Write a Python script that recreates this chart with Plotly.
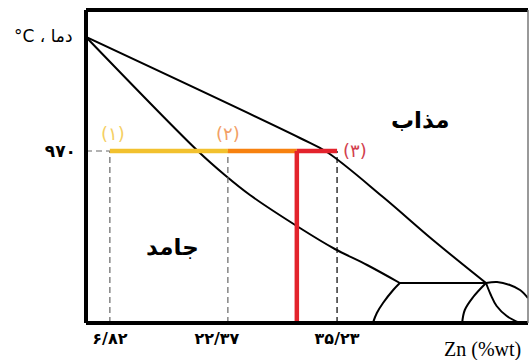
import plotly.graph_objects as go

# schematic Cu-Zn diagram, x = position across the frame (0-100), y = temperature
liq_x = [0, 48.4, 54.5, 67.2, 78.5, 90.5]
liq_t = [1084, 983, 969, 924, 881, 838]

sol_x = [0, 25.3, 31.4, 37.1, 48.4, 56.3, 63.6, 71.0]
sol_t = [1084, 970, 946, 926, 893, 872, 856, 838]

peri_x = [71.0, 90.5]
peri_t = [838, 838]

right_x = [90.5, 93.0, 95.9, 98.2, 100]
right_t = [838, 839, 836, 831, 823]

down_x = [90.5, 91.6, 92.9, 95.2, 98.2]
down_t = [838, 826, 815, 805, 798]

arc1_x = [71.0, 69.5, 67.2, 65.8, 64.9]
arc1_t = [838, 831, 818, 808, 798]

arc2_x = [90.5, 87.6, 85.7, 85.1]
arc2_t = [838, 824, 811, 798]

# points (1), (2), (3) on the 970 line and the alloy composition
t_iso = 970
pts_x = [5.4, 32.1, 56.8]
alloy_x = 47.7
t_bottom = 798

x_ticks = [5.4, 29.6, 56.8]
x_labels = ["۶/۸۲", "۲۲/۳۷", "۳۵/۲۳"]

seg_colors = ["#F2C12E", "#F7810F", "#E3232C"]
lbl_colors = ["#F5CF63", "#F2A066", "#D2404E"]
lbl_text = ["(۱)", "(۲)", "(۳)"]

fig = go.Figure()

for xs, ts, shape in [(liq_x, liq_t, "spline"), (sol_x, sol_t, "spline"),
                      (peri_x, peri_t, "linear"), (right_x, right_t, "spline"),
                      (down_x, down_t, "spline"), (arc1_x, arc1_t, "spline"),
                      (arc2_x, arc2_t, "spline")]:
    fig.add_trace(go.Scatter(x=xs, y=ts, mode="lines", line=dict(color="black", width=2, shape=shape),
                             hoverinfo="skip", showlegend=False))

# dashed guides
fig.add_trace(go.Scatter(x=[0, pts_x[0]], y=[t_iso, t_iso], mode="lines",
                         line=dict(color="#666666", width=1.2, dash="6px,4px"), showlegend=False))
for i, xv in enumerate(pts_x):
    fig.add_trace(go.Scatter(x=[xv, xv], y=[t_bottom, t_iso], mode="lines",
                             line=dict(color="#666666" if i < 2 else "black", width=1.2, dash="6px,4px"),
                             showlegend=False))

# coloured 970 line
seg_ends = [pts_x[0], pts_x[1], alloy_x, pts_x[2]]
for i in range(3):
    fig.add_trace(go.Scatter(x=[seg_ends[i], seg_ends[i + 1]], y=[t_iso, t_iso], mode="lines",
                             line=dict(color=seg_colors[i], width=4.5), showlegend=False))
fig.add_trace(go.Scatter(x=[alloy_x, alloy_x], y=[t_bottom, t_iso], mode="lines",
                         line=dict(color=seg_colors[2], width=4.5), showlegend=False))

# frame
for x0, y0, x1, y1, w, c in [(0, 0, 0, 1, 4, "black"), (0, 1, 1, 1, 4, "black"),
                             (0, 0, 1, 0, 4, "black"), (1, 0, 1, 1, 1.5, "#777777")]:
    fig.add_shape(type="line", xref="paper", yref="paper", x0=x0, y0=y0, x1=x1, y1=y1,
                  line=dict(color=c, width=w))

ar = "DejaVu Sans"
fig.add_annotation(x=pts_x[0] + 0.6, y=t_iso + 18, text=lbl_text[0], showarrow=False,
                   font=dict(family=ar, size=18, color=lbl_colors[0]))
fig.add_annotation(x=pts_x[1], y=t_iso + 18, text=lbl_text[1], showarrow=False,
                   font=dict(family=ar, size=18, color=lbl_colors[1]))
fig.add_annotation(x=pts_x[2] + 1.0, y=t_iso + 1, text=lbl_text[2], showarrow=False, xanchor="left",
                   font=dict(family=ar, size=18, color=lbl_colors[2]))

fig.add_annotation(x=75.6, y=1001, text="<b>مذاب</b>", showarrow=False,
                   font=dict(family=ar, size=23, color="black"))
fig.add_annotation(x=19.5, y=874, text="<b>جامد</b>", showarrow=False,
                   font=dict(family=ar, size=23, color="black"))
fig.add_annotation(xref="paper", yref="paper", x=-0.097, y=0.917, xanchor="center", yanchor="middle",
                   text="°C ، دما", showarrow=False,
                   font=dict(family=ar, size=17, color="black"))
fig.add_annotation(xref="paper", yref="paper", x=0.806, y=-0.085, xanchor="left", yanchor="middle",
                   text="Zn (%wt)", showarrow=False,
                   font=dict(family="Liberation Serif", size=20, color="black"))

fig.update_layout(
    width=529, height=360,
    margin=dict(l=86, r=1, t=10, b=37),
    plot_bgcolor="white", paper_bgcolor="white",
    xaxis=dict(range=[0, 100], showgrid=False, zeroline=False, showline=False,
               tickvals=x_ticks, ticktext=["<b>" + s + "</b>" for s in x_labels], ticks="",
               ticklabelstandoff=4,
               tickfont=dict(family=ar, size=16, color="black")),
    yaxis=dict(range=[798, 1111], showgrid=False, zeroline=False, showline=False,
               tickvals=[970], ticktext=["<b>۹۷۰</b>"], ticks="", ticklabelstandoff=9,
               tickfont=dict(family=ar, size=17, color="black")),
)

fig.write_html("out.html", config={"displayModeBar": False},
               post_script="document.body.style.margin='0';")
